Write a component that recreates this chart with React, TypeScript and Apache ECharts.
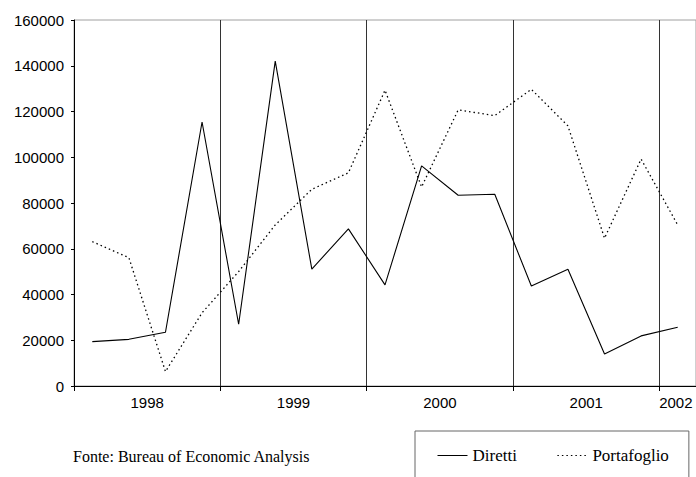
import React, { useEffect, useRef } from "react";
import * as echarts from "echarts";

const quarters = [
  "1998Q1", "1998Q2", "1998Q3", "1998Q4",
  "1999Q1", "1999Q2", "1999Q3", "1999Q4",
  "2000Q1", "2000Q2", "2000Q3", "2000Q4",
  "2001Q1", "2001Q2", "2001Q3", "2001Q4",
  "2002Q1",
];
const diretti = [
  19400, 20400, 23500, 115400,
  27000, 142000, 51100, 68700,
  44200, 96200, 83400, 83800,
  43700, 51000, 14000, 21900,
  25700,
];
const portafoglio = [
  63100, 56100, 6300, 32000,
  50000, 70400, 86000, 93200,
  129300, 87000, 120700, 118200,
  129700, 113700, 64600, 99200,
  70400,
];
const yearLabelPositions = [2, 6, 10, 14, 16.45];
const firstYear = 1998;

export default function App() {
  const ref = useRef<HTMLDivElement>(null);
  useEffect(() => {
    document.body.style.margin = "0";
    if (!ref.current) return;
    const chart = echarts.init(ref.current, null, { renderer: "svg" });
    const toPts = (arr: number[]) => arr.map((v, i) => [i + 0.5, v]);
    chart.setOption({
      animation: false,
      backgroundColor: "#fff",
      grid: {
        left: 74,
        top: 20,
        width: 625,
        height: 366,
        show: true,
        borderColor: "#a0a0a0",
        borderWidth: 1,
        backgroundColor: "transparent",
      },
      xAxis: {
        type: "value",
        min: 0,
        max: quarters.length,
        interval: 4,
        axisLine: { show: true, lineStyle: { color: "#000", width: 1 } },
        axisTick: { show: true, inside: false, length: 5, lineStyle: { color: "#000" } },
        splitLine: { show: true, lineStyle: { color: "#333", width: 1 } },
        axisLabel: {
          customValues: yearLabelPositions,
          formatter: (v: number) => String(firstYear + Math.floor(v / 4)),
          color: "#000",
          fontFamily: "Liberation Sans",
          fontSize: 15,
          margin: 9,
        },
      },
      yAxis: {
        type: "value",
        min: 0,
        max: 160000,
        interval: 20000,
        axisLine: { show: true, lineStyle: { color: "#000", width: 1 } },
        axisTick: { show: true, inside: false, length: 3, lineStyle: { color: "#000" } },
        splitLine: { show: false },
        axisLabel: {
          formatter: (v: number) => String(v),
          color: "#000",
          fontFamily: "Liberation Sans",
          fontSize: 15,
          margin: 10,
        },
      },
      legend: {
        left: 415,
        top: 431,
        orient: "horizontal",
        padding: [16, 20, 40, 22],
        itemGap: 40,
        itemWidth: 30,
        itemHeight: 14,
        borderColor: "#666",
        borderWidth: 1,
        itemStyle: { opacity: 0 },
        lineStyle: { width: 1 },
        textStyle: { fontFamily: "Liberation Serif", fontSize: 17, color: "#000" },
        data: ["Diretti", "Portafoglio"],
      },
      graphic: [
        {
          type: "text",
          left: 73,
          top: 448,
          style: {
            text: "Fonte: Bureau of Economic Analysis",
            font: '16px "Liberation Serif"',
            fill: "#000",
          },
        },
      ],
      series: [
        {
          name: "Diretti",
          type: "line",
          data: toPts(diretti),
          showSymbol: false,
          symbol: "none",
          lineStyle: { color: "#000", width: 1.1, type: "solid" },
          itemStyle: { color: "#000" },
        },
        {
          name: "Portafoglio",
          type: "line",
          data: toPts(portafoglio),
          showSymbol: false,
          symbol: "none",
          lineStyle: { color: "#000", width: 1.3, type: [1.5, 3] },
          itemStyle: { color: "#000" },
        },
      ],
    });
    return () => chart.dispose();
  }, []);
  return <div ref={ref} style={{ width: 696, height: 477 }} />;
}
